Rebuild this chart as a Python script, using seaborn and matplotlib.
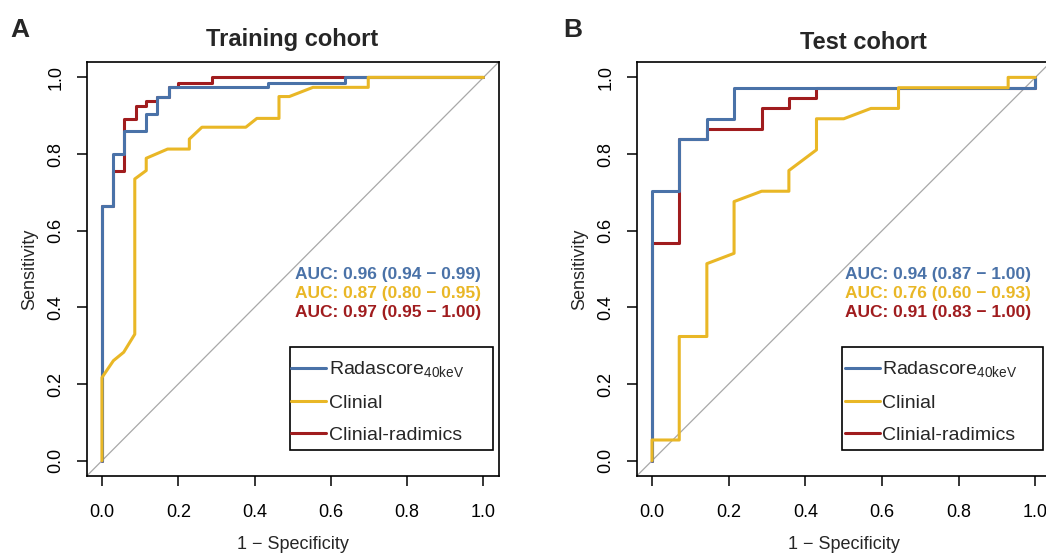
import matplotlib
matplotlib.use("Agg")
import matplotlib.pyplot as plt
import seaborn as sns
from matplotlib.lines import Line2D
from matplotlib.patches import Rectangle

sns.set_style("ticks")
plt.rcParams['font.family'] = ['Liberation Sans', 'DejaVu Sans']
plt.rcParams['mathtext.fontset'] = 'custom'
plt.rcParams['mathtext.rm'] = 'Liberation Sans'

# ---------------- data ----------------
model_names = ["Radascore$_{\\mathregular{40keV}}$", "Clinial", "Clinial-radimics"]
model_colors = ["#4a72a8", "#e9b726", "#a01c1e"]
tick_values = [0.0, 0.2, 0.4, 0.6, 0.8, 1.0]
tick_labels = ["0.0", "0.2", "0.4", "0.6", "0.8", "1.0"]
panel_titles = ["Training cohort", "Test cohort"]
panel_letters = ["A", "B"]

# Training cohort
train_rad_fpr = [0, 0, 0.028, 0.028, 0.059, 0.059, 0.116, 0.116, 0.145, 0.145, 0.175, 0.175, 0.434, 0.434, 0.637, 0.637, 1.0]
train_rad_tpr = [0, 0.665, 0.665, 0.800, 0.800, 0.861, 0.861, 0.904, 0.904, 0.950, 0.950, 0.974, 0.974, 0.985, 0.985, 1.0, 1.0]
train_cli_fpr = [0, 0, 0.030, 0.057, 0.086, 0.086, 0.116, 0.116, 0.172, 0.229, 0.229, 0.262, 0.377, 0.406, 0.464, 0.464, 0.491, 0.553, 0.698, 0.698, 1.0]
train_cli_tpr = [0, 0.217, 0.261, 0.283, 0.330, 0.735, 0.757, 0.789, 0.813, 0.813, 0.839, 0.870, 0.870, 0.893, 0.893, 0.950, 0.950, 0.974, 0.974, 1.0, 1.0]
train_comb_fpr = [0, 0, 0.028, 0.028, 0.059, 0.059, 0.088, 0.088, 0.116, 0.116, 0.145, 0.145, 0.175, 0.175, 0.200, 0.200, 0.288, 0.288, 1.0]
train_comb_tpr = [0, 0.665, 0.665, 0.757, 0.757, 0.891, 0.891, 0.926, 0.926, 0.939, 0.939, 0.950, 0.950, 0.974, 0.974, 0.985, 0.985, 1.0, 1.0]
train_auc = ["AUC: 0.96 (0.94 \u2212 0.99)", "AUC: 0.87 (0.80 \u2212 0.95)", "AUC: 0.97 (0.95 \u2212 1.00)"]

# Test cohort
test_rad_fpr = [0, 0, 0.071, 0.071, 0.143, 0.143, 0.214, 0.214, 1.0, 1.0]
test_rad_tpr = [0, 0.703, 0.703, 0.838, 0.838, 0.892, 0.892, 0.973, 0.973, 1.0]
test_cli_fpr = [0, 0, 0.071, 0.071, 0.143, 0.143, 0.214, 0.214, 0.286, 0.357, 0.357, 0.429, 0.429, 0.500, 0.571, 0.643, 0.643, 0.929, 0.929, 1.0]
test_cli_tpr = [0, 0.054, 0.054, 0.324, 0.324, 0.514, 0.541, 0.676, 0.703, 0.703, 0.757, 0.811, 0.892, 0.892, 0.919, 0.919, 0.973, 0.973, 1.0, 1.0]
test_comb_fpr = [0, 0, 0.071, 0.071, 0.143, 0.143, 0.286, 0.286, 0.357, 0.357, 0.429, 0.429, 1.0, 1.0]
test_comb_tpr = [0, 0.568, 0.568, 0.838, 0.838, 0.865, 0.865, 0.919, 0.919, 0.946, 0.946, 0.973, 0.973, 1.0]
test_auc = ["AUC: 0.94 (0.87 \u2212 1.00)", "AUC: 0.76 (0.60 \u2212 0.93)", "AUC: 0.91 (0.83 \u2212 1.00)"]

panels = [
    ([(train_rad_fpr, train_rad_tpr), (train_cli_fpr, train_cli_tpr), (train_comb_fpr, train_comb_tpr)], train_auc),
    ([(test_rad_fpr, test_rad_tpr), (test_cli_fpr, test_cli_tpr), (test_comb_fpr, test_comb_tpr)], test_auc),
]

# ---------------- figure ----------------
fig = plt.figure(figsize=(10.46, 5.55), dpi=100)
axA = fig.add_axes([0.0829, 0.1423, 0.3939, 0.7459])
axB = fig.add_axes([0.6087, 0.1423, 0.3958, 0.7459])
axes = [axA, axB]

# legend frame (axes fraction: x0, y0, width, height) and content anchor
legend_boxes = [(0.4934, 0.0628, 0.4926, 0.2488), (0.4950, 0.0628, 0.4860, 0.2488)]
legend_anchor = [(0.496, 0.280), (0.502, 0.280)]
auc_x = [0.505, 0.503]

zorders = [3, 4, 2]  # red below blue, yellow on top

for i, (ax, (curves, aucs)) in enumerate(zip(axes, panels)):
    ax.axline((0, 0), (1, 1), color="#a8a8a8", lw=0.9, zorder=1)
    for (fpr, tpr), name, col, z in zip(curves, model_names, model_colors, zorders):
        sns.lineplot(x=fpr, y=tpr, ax=ax, color=col, lw=2.2, sort=False,
                     estimator=None, zorder=z, legend=False)
    ax.set_xlim(-0.04, 1.04)
    ax.set_ylim(-0.04, 1.04)
    ax.set_xticks(tick_values)
    ax.set_xticklabels(tick_labels)
    ax.set_yticks(tick_values)
    ax.set_yticklabels(tick_labels, rotation=90, va="center")
    ax.tick_params(direction="out", length=7, width=1.1, labelsize=13, colors="black")
    ax.tick_params(axis="x", pad=13)
    ax.tick_params(axis="y", pad=9)
    for s in ax.spines.values():
        s.set_visible(True)
        s.set_color("black")
        s.set_linewidth(1.2)
    ax.set_xlabel("1 \u2212 Specificity", fontsize=13)
    ax.set_ylabel("Sensitivity", fontsize=13)
    ax.xaxis.set_label_coords(0.5, -0.145)
    ax.yaxis.set_label_coords(-0.118, 0.5)
    for txt, col, yy in zip(aucs, model_colors, [0.488, 0.442, 0.395]):
        ax.text(auc_x[i], yy, txt, transform=ax.transAxes, color=col, fontsize=12.5,
                fontweight="bold", ha="left", va="center")
    bx, by, bw, bh = legend_boxes[i]
    ax.add_patch(Rectangle((bx, by), bw, bh, transform=ax.transAxes, fill=True,
                           facecolor="white", edgecolor="black", lw=1.2, zorder=5))
    handles = [Line2D([], [], color=c, lw=2.2) for c in model_colors]
    leg = ax.legend(handles, model_names, loc="upper left",
                    bbox_to_anchor=legend_anchor[i],
                    fontsize=14, frameon=False, borderpad=0,
                    handlelength=1.8, handletextpad=0.15, labelspacing=0.72,
                    borderaxespad=0)
    leg.set_zorder(6)

fig.text(292 / 1046, 1 - 46 / 555, panel_titles[0], fontsize=17, fontweight="bold",
         ha="center", va="baseline")
fig.text(863 / 1046, 1 - 49 / 555, panel_titles[1], fontsize=17, fontweight="bold",
         ha="center", va="baseline")
fig.text(10 / 1046, 1 - 37 / 555, panel_letters[0], fontsize=19, fontweight="bold",
         ha="left", va="baseline")
fig.text(563 / 1046, 1 - 37 / 555, panel_letters[1], fontsize=19, fontweight="bold",
         ha="left", va="baseline")

fig.savefig("out.png", dpi=100, facecolor="white")
